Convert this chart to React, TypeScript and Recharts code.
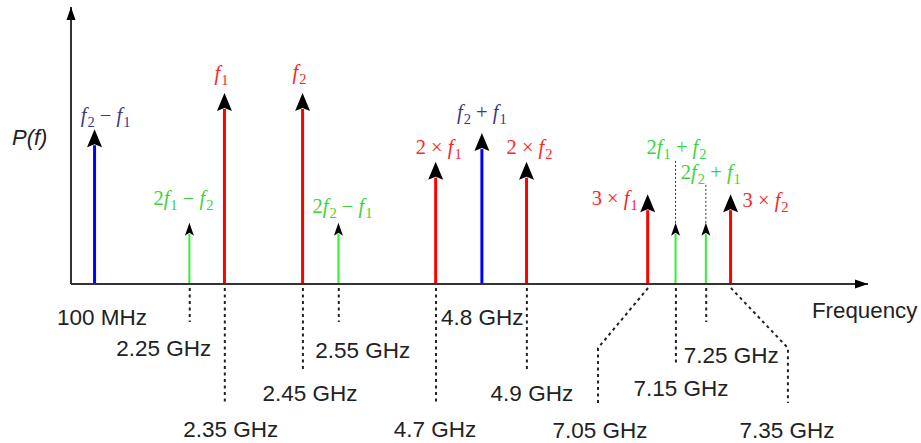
import React from 'react';
import { ComposedChart, Bar, XAxis, YAxis, ReferenceDot, Label } from 'recharts';

// Schematic position of every spectral line along the (broken) frequency axis
const axisPositions = [3.0, 14.9, 19.3, 29.1, 33.6, 45.8, 51.6, 57.2, 72.4, 75.9, 79.7, 82.8];
const frequencyLabels = [
  '100 MHz', '2.25 GHz', '2.35 GHz', '2.45 GHz', '2.55 GHz', '4.7 GHz',
  '4.8 GHz', '4.9 GHz', '7.05 GHz', '7.15 GHz', '7.25 GHz', '7.35 GHz',
];
// Mixing-product names: "_" marks a subscript, "*" a times sign
const productNames = [
  'f_2 - f_1', '2f_1 - f_2', 'f_1', 'f_2', '2f_2 - f_1', '2 * f_1',
  'f_2 + f_1', '2 * f_2', '3 * f_1', '2f_1 + f_2', '2f_2 + f_1', '3 * f_2',
];
// Relative power of each product, split by family
const tonesAndHarmonics = [null, null, 1.0, 1.0, null, 0.64, null, 0.64, 0.47, null, null, 0.47];
const secondOrderMix = [0.81, null, null, null, null, null, 0.79, null, null, null, null, null];
const thirdOrderMix = [null, 0.32, null, null, 0.32, null, null, null, null, 0.32, 0.32, null];

const Y_MAX = 1.45;
const X_MAX = 100;

const rows = axisPositions.map((pos, i) => ({
  i,
  pos,
  tones: tonesAndHarmonics[i],
  second: secondOrderMix[i],
  third: thirdOrderMix[i],
}));

// Caption placement below the axis, relative to each tick
const captionLayout: any[] = [
  { dx: 7, dy: 33 },
  { dx: -26, dy: 64, lead: 38 },
  { dx: 6, dy: 145, lead: 119 },
  { dx: 7, dy: 109, lead: 86 },
  { dx: 24, dy: 66, lead: 38 },
  { dx: -1, dy: 145, lead: 118 },
  { dx: 0, dy: 33 },
  { dx: 5, dy: 109, lead: 88 },
  { dx: -48, dy: 146, lead: 119, bend: -50, bendAt: 64 },
  { dx: 5, dy: 104, lead: 81 },
  { dx: 25, dy: 71, lead: 38 },
  { dx: 56, dy: 146, lead: 119, bend: 57, bendAt: 64 },
];

// Name placement relative to each arrow tip
const nameLayout: any[] = [
  { dx: 11, dy: -13 },
  { dx: -6, dy: -24 },
  { dx: -3, dy: -19 },
  { dx: -3, dy: -20 },
  { dx: 4, dy: -16 },
  { dx: 3, dy: -14 },
  { dx: 0, dy: -20 },
  { dx: 3, dy: -14 },
  { dx: -10, dy: 5, anchor: 'end' },
  { dx: 1, dy: -75, guide: 64 },
  { dx: 5, dy: -50, guide: 39 },
  { dx: 12, dy: 7, anchor: 'start' },
];

const SANS = '"Liberation Sans", Arial, sans-serif';
const SERIF = '"Liberation Serif", "Times New Roman", serif';

function MathText({ x, y, expr, color, anchor = 'middle' }: any) {
  const parts: any[] = [];
  let shift = 0;
  for (let i = 0; i < expr.length; i++) {
    const c = expr[i];
    if (c === '_') {
      const d = expr[++i];
      parts.push(
        <tspan key={i} dx={1} dy={5} fontSize={14.5}>
          {d}
        </tspan>
      );
      shift = 5;
      continue;
    }
    const dy = shift ? -shift : undefined;
    shift = 0;
    if (c === 'f') {
      parts.push(
        <tspan key={i} dy={dy} fontStyle="italic">
          f
        </tspan>
      );
    } else {
      const ch = c === '-' ? '\u2212' : c === '*' ? '\u00d7' : c === ' ' ? '\u00a0' : c;
      parts.push(
        <tspan key={i} dy={dy}>
          {ch}
        </tspan>
      );
    }
  }
  return (
    <text x={x} y={y} textAnchor={anchor} fill={color} fontFamily={SERIF} fontSize={20.5}>
      {parts}
    </text>
  );
}

const makeArrow = (key: string, lineColor: string, textColor: string, thin: boolean) => (props: any) => {
  const { x, y, width, height, payload } = props;
  const v = payload ? payload[key] : null;
  if (v == null || !(height > 0)) return null;
  const cx = x + width / 2;
  const base = y + height;
  const tip = y;
  const headLen = thin ? 13 : 18;
  const half = thin ? 4.5 : 7.5;
  const lay = nameLayout[payload.i];
  return (
    <g>
      <line x1={cx} y1={base} x2={cx} y2={tip + headLen - 2} stroke={lineColor} strokeWidth={thin ? 2 : 3} />
      <path
        d={`M${cx},${tip} L${cx + half},${tip + headLen} L${cx},${tip + headLen - 3} L${cx - half},${tip + headLen} Z`}
        fill="#000"
      />
      {lay.guide ? (
        <line
          x1={cx}
          y1={tip}
          x2={cx}
          y2={tip - lay.guide}
          stroke="#333"
          strokeWidth={1}
          strokeDasharray="2 2"
        />
      ) : null}
      <MathText
        x={cx + lay.dx}
        y={tip + lay.dy + 6}
        expr={productNames[payload.i]}
        color={textColor}
        anchor={lay.anchor || 'middle'}
      />
    </g>
  );
};

const RedArrow = makeArrow('tones', '#ff0000', '#ff2424', false);
const BlueArrow = makeArrow('second', '#0000ff', '#38388c', false);
const GreenArrow = makeArrow('third', '#33ee33', '#3cd43c', true);

function FrequencyTick(props: any) {
  const { x, y, index } = props;
  const lay = captionLayout[index];
  if (!lay) return null;
  const y0 = y + 4;
  let leader = null;
  if (lay.lead) {
    const pts = lay.bend
      ? `${x},${y0} ${x + lay.bend},${y + lay.bendAt} ${x + lay.bend},${y + lay.lead}`
      : `${x},${y0} ${x},${y + lay.lead}`;
    leader = <polyline points={pts} fill="none" stroke="#222" strokeWidth={2} strokeDasharray="3 3.5" />;
  }
  return (
    <g>
      {leader}
      <text x={x + lay.dx} y={y + lay.dy + 8} textAnchor="middle" fill="#222" fontFamily={SANS} fontSize={22.5}>
        {frequencyLabels[index]}
      </text>
    </g>
  );
}

function FrequencyTitle({ viewBox }: any) {
  const { x, y, width } = viewBox;
  return (
    <text x={x + width - 56} y={y + 34} fill="#222" fontFamily={SANS} fontSize={22.3}>
      Frequency
    </text>
  );
}

function PowerTitle({ viewBox }: any) {
  const { x, y, width } = viewBox;
  return (
    <text x={x + width - 59} y={y + 138} fill="#222" fontFamily={SANS} fontSize={22} fontStyle="italic">
      P(f)
    </text>
  );
}

const RightHead = ({ cx, cy }: any) => (
  <path d={`M${cx},${cy} L${cx - 13},${cy - 4.5} L${cx - 13},${cy + 4.5} Z`} fill="#000" />
);
const UpHead = ({ cx, cy }: any) => (
  <path d={`M${cx},${cy} L${cx - 4.5},${cy + 13} L${cx + 4.5},${cy + 13} Z`} fill="#000" />
);

export default function App() {
  return (
    <div style={{ position: 'absolute', left: 0, top: 0, width: 921, height: 443, background: '#fff' }}>
      <ComposedChart
        width={921}
        height={443}
        data={rows}
        margin={{ top: 7, right: 53, bottom: 0, left: 0 }}
      >
        <XAxis
          type="number"
          dataKey="pos"
          domain={[0, X_MAX]}
          ticks={axisPositions}
          interval={0}
          height={159}
          tickSize={0}
          tickMargin={0}
          tickLine={false}
          axisLine={{ stroke: '#333', strokeWidth: 2 }}
          tick={<FrequencyTick />}
        >
          <Label content={<FrequencyTitle />} />
        </XAxis>
        <YAxis
          type="number"
          domain={[0, Y_MAX]}
          width={71}
          tick={false}
          tickLine={false}
          axisLine={{ stroke: '#333', strokeWidth: 2 }}
        >
          <Label content={<PowerTitle />} />
        </YAxis>
        <Bar dataKey="tones" stackId="s" barSize={14} shape={RedArrow} isAnimationActive={false} />
        <Bar dataKey="second" stackId="s" barSize={14} shape={BlueArrow} isAnimationActive={false} />
        <Bar dataKey="third" stackId="s" barSize={14} shape={GreenArrow} isAnimationActive={false} />
        <ReferenceDot x={X_MAX} y={0} r={0} shape={RightHead} ifOverflow="visible" />
        <ReferenceDot x={0} y={Y_MAX} r={0} shape={UpHead} ifOverflow="visible" />
      </ComposedChart>
    </div>
  );
}
